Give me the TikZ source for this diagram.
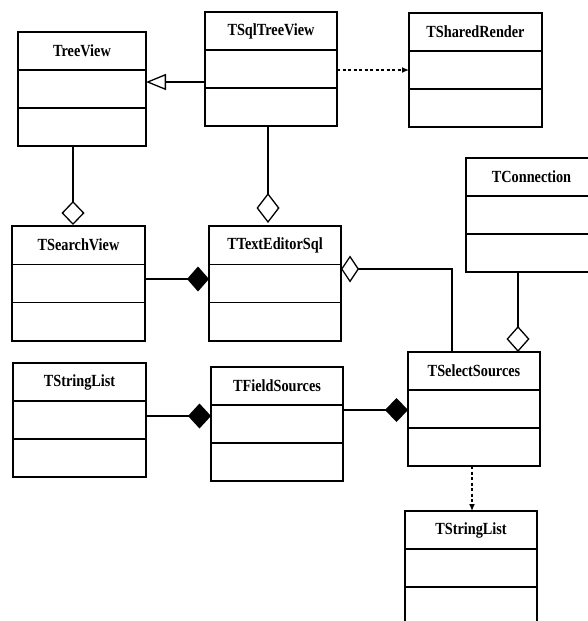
\documentclass[tikz,border=0pt]{standalone}
\usepackage{fontspec}
\setmainfont{Liberation Serif}[FakeStretch=0.84]
\usetikzlibrary{arrows.meta,calc,fit}
\tikzset{
  clsbox/.style={draw, line width=1.3pt, inner sep=0pt, outer sep=0pt},
  clstitle/.style={font=\bfseries\fontsize{17}{19}\selectfont, inner sep=0pt},
  conn/.style={line width=1.3pt},
  dep/.style={conn, dash pattern=on 3pt off 2.5pt, -{Latex[length=7pt,width=6pt]}},
}
\newcommand\umlcls[6]{%
  \coordinate (#1-nw) at (#2,#3);
  \coordinate (#1-se) at (#4,#5);
  \node[clsbox, fit=(#1-nw)(#1-se)] (#1) {};
  \draw[line width=1.3pt] ($(#1.north west)!1/3!(#1.south west)$) -- ($(#1.north east)!1/3!(#1.south east)$);
  \draw[line width=1.3pt] ($(#1.north west)!2/3!(#1.south west)$) -- ($(#1.north east)!2/3!(#1.south east)$);
  \node[clstitle] (#1-t) at ($(#1.north)!1/6!(#1.south)$) {#6};
}
\begin{document}
\begin{tikzpicture}[x=1pt,y=-1pt]
\useasboundingbox (0,0) rectangle (588,621);
\clip (0,0) rectangle (588,621);
\umlcls{tv}{18}{32}{146}{146}{TreeView}
\umlcls{sqltv}{205}{12}{337}{126}{TSqlTreeView}
\umlcls{sr}{409}{13}{542}{127}{TSharedRender}
\umlcls{sv}{12}{226}{145}{341}{TSearchView}
\umlcls{ted}{209}{226}{341}{341}{TTextEditorSql}
\umlcls{tc}{466}{158}{597}{272}{TConnection}
\umlcls{sl}{13}{363}{146}{477}{TStringList}
\umlcls{fs}{211}{367}{343}{481}{TFieldSources}
\umlcls{ss}{408}{352}{540}{466}{TSelectSources}
\umlcls{sl2}{405}{511}{537}{625}{TStringList}

\draw[conn, -{Triangle[open,length=20pt,width=16pt]}] (sqltv.west |- 0,82) -- (tv.east |- 0,82);
\draw[dep] (sqltv.east |- 0,70) -- (sr.west |- 0,70);
\draw[conn, -{Diamond[open,length=24pt,width=23pt]}] (tv.south -| 73,0) -- ([yshift=1pt]sv.north -| 73,0);
\draw[conn, -{Diamond[open,length=30pt,width=23pt]}] (sqltv.south -| 268,0) -- ([yshift=3pt]ted.north -| 268,0);
\draw[conn, -{Diamond[length=22pt,width=25pt]}] (sv.east |- 0,279) -- (ted.west |- 0,279);
\draw[conn, {Diamond[open,length=18pt,width=27pt]}-] (ted.east |- 0,269) -| (ss.north -| 452,0);
\draw[conn, -{Diamond[open,length=26pt,width=23pt]}] (tc.south -| 518,0) -- (ss.north -| 518,0);
\draw[conn, -{Diamond[length=23pt,width=25pt]}] (sl.east |- 0,416) -- (fs.west |- 0,416);
\draw[conn, -{Diamond[length=23pt,width=24pt]}] (fs.east |- 0,410) -- (ss.west |- 0,410);
\draw[dep] (ss.south -| 472,0) -- (sl2.north -| 472,0);
\end{tikzpicture}
\end{document}
